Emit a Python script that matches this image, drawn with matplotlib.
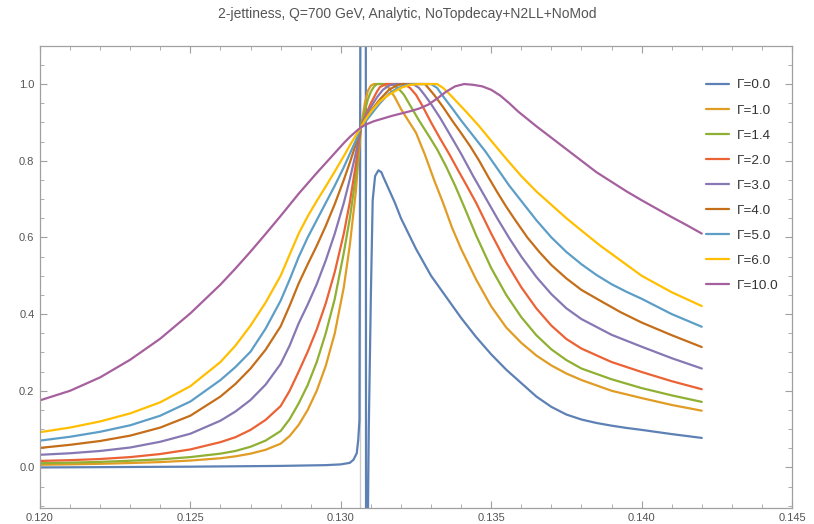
import matplotlib
matplotlib.use("Agg")
import matplotlib.pyplot as plt
from matplotlib.ticker import MultipleLocator, FormatStrFormatter

plt.rcParams['font.family'] = ['Liberation Sans', 'DejaVu Sans']

title = "2-jettiness, Q=700 GeV, Analytic, NoTopdecay+N2LL+NoMod"
labels = ["Γ=0.0", "Γ=1.0", "Γ=1.4", "Γ=2.0", "Γ=3.0", "Γ=4.0", "Γ=5.0", "Γ=6.0", "Γ=10.0"]
colors = ["#5E81B5", "#E19C24", "#8FB032", "#EB6235", "#8778B3", "#C56E1A", "#5D9EC7", "#FFBF00", "#A5609D"]

# Gamma = 0.0 (includes the numerical spike near the threshold)
x_g00 = [0.1200, 0.1250, 0.1280, 0.1295, 0.13000, 0.13030, 0.13042, 0.13053, 0.13058, 0.13062, 0.13066,
         0.13083, 0.13084, 0.13088, 0.13093, 0.13100, 0.13106, 0.13114, 0.13125, 0.13135, 0.1314,
         0.1316, 0.1318, 0.1320, 0.1325, 0.1330, 0.1335, 0.1340, 0.1345, 0.1350, 0.1355, 0.1360,
         0.1365, 0.1370, 0.1375, 0.1380, 0.1385, 0.1390, 0.1395, 0.1400, 0.1410, 0.1420]
y_g00 = [0.000, 0.002, 0.004, 0.006, 0.008, 0.012, 0.020, 0.037, 0.072, 0.124, 1.500,
         1.500, -0.300, -0.300, 0.100, 0.450, 0.697, 0.760, 0.775, 0.770, 0.760,
         0.725, 0.690, 0.650, 0.570, 0.500, 0.445, 0.390, 0.340, 0.295, 0.255, 0.220,
         0.185, 0.158, 0.138, 0.125, 0.116, 0.109, 0.103, 0.098, 0.087, 0.077]

x_rise = [0.1200, 0.1210, 0.1220, 0.1230, 0.1240, 0.1250, 0.1260, 0.1265, 0.1270, 0.1275, 0.1280,
          0.1283, 0.1286, 0.1289, 0.1292, 0.1295, 0.1298, 0.1301, 0.1303, 0.1305, 0.13067]

# Gamma = 1.0
x_g10 = x_rise + [0.1308, 0.1309, 0.1310, 0.1311, 0.1314, 0.1316, 0.1318, 0.1320, 0.1322, 0.1325, 0.1328,
                  0.1331, 0.1334, 0.1337, 0.1340, 0.1345, 0.1350, 0.1355, 0.1360, 0.1365, 0.1370, 0.1375,
                  0.1380, 0.1390, 0.1400, 0.1410, 0.1420]
y_g10 = [0.007, 0.008, 0.0095, 0.0115, 0.014, 0.018, 0.024, 0.029, 0.036, 0.046, 0.062,
         0.082, 0.111, 0.150, 0.200, 0.265, 0.350, 0.470, 0.580, 0.720, 0.887,
         0.950, 0.982, 0.996, 1.000, 1.000, 0.990, 0.965, 0.935, 0.910, 0.873, 0.815,
         0.750, 0.690, 0.625, 0.570, 0.490, 0.420, 0.365, 0.325, 0.292, 0.266, 0.245,
         0.228, 0.200, 0.181, 0.163, 0.148]

# Gamma = 1.4
x_g14 = x_rise + [0.1308, 0.1309, 0.1310, 0.1311, 0.1312, 0.1317, 0.1319, 0.1321, 0.1323, 0.1326, 0.1329,
                  0.1332, 0.1335, 0.1338, 0.1341, 0.1345, 0.1350, 0.1355, 0.1360, 0.1365, 0.1370, 0.1375,
                  0.1380, 0.1390, 0.1400, 0.1410, 0.1420]
y_g14 = [0.011, 0.0125, 0.0145, 0.0175, 0.021, 0.027, 0.036, 0.043, 0.054, 0.070, 0.095,
         0.126, 0.167, 0.215, 0.275, 0.350, 0.440, 0.560, 0.650, 0.760, 0.887,
         0.930, 0.960, 0.980, 0.993, 1.000, 1.000, 0.990, 0.972, 0.945, 0.905, 0.868,
         0.830, 0.785, 0.735, 0.680, 0.605, 0.520, 0.450, 0.392, 0.345, 0.308, 0.280,
         0.258, 0.230, 0.207, 0.188, 0.171]

# Gamma = 2.0
x_g20 = x_rise + [0.1308, 0.1310, 0.1312, 0.1313, 0.1315, 0.1321, 0.1323, 0.1325, 0.1327, 0.1330, 0.1333,
                  0.1336, 0.1339, 0.1342, 0.1345, 0.1350, 0.1355, 0.1360, 0.1365, 0.1370, 0.1375, 0.1380,
                  0.1390, 0.1400, 0.1410, 0.1420]
y_g20 = [0.017, 0.019, 0.022, 0.027, 0.035, 0.047, 0.066, 0.079, 0.098, 0.124, 0.160,
         0.200, 0.250, 0.302, 0.360, 0.428, 0.510, 0.610, 0.692, 0.790, 0.887,
         0.915, 0.950, 0.980, 0.992, 1.000, 1.000, 0.990, 0.972, 0.945, 0.900, 0.858,
         0.818, 0.775, 0.733, 0.690, 0.610, 0.535, 0.470, 0.415, 0.370, 0.335, 0.310,
         0.275, 0.249, 0.225, 0.204]

# Gamma = 3.0
x_g30 = x_rise + [0.1308, 0.1310, 0.1312, 0.1314, 0.1316, 0.1318, 0.1324, 0.1326, 0.1328, 0.1330, 0.1333,
                  0.1336, 0.1340, 0.1344, 0.1348, 0.1352, 0.1356, 0.1360, 0.1365, 0.1370, 0.1375, 0.1380,
                  0.1390, 0.1400, 0.1410, 0.1420]
y_g30 = [0.033, 0.037, 0.043, 0.052, 0.067, 0.088, 0.122, 0.146, 0.176, 0.216, 0.270,
         0.318, 0.376, 0.425, 0.478, 0.540, 0.610, 0.690, 0.752, 0.820, 0.887,
         0.910, 0.940, 0.965, 0.985, 0.996, 1.000, 1.000, 0.990, 0.970, 0.948, 0.912,
         0.872, 0.818, 0.760, 0.705, 0.650, 0.598, 0.550, 0.497, 0.452, 0.415, 0.387,
         0.346, 0.315, 0.285, 0.258]

# Gamma = 4.0
x_g40 = x_rise + [0.1308, 0.1310, 0.1313, 0.1316, 0.1319, 0.1321, 0.1328, 0.1331, 0.1334, 0.1337, 0.1340,
                  0.1343, 0.1346, 0.1349, 0.1352, 0.1355, 0.1358, 0.1362, 0.1366, 0.1370, 0.1375, 0.1380,
                  0.1386, 0.1393, 0.1400, 0.1410, 0.1420]
y_g40 = [0.051, 0.059, 0.069, 0.083, 0.104, 0.135, 0.185, 0.218, 0.258, 0.307, 0.368,
         0.422, 0.480, 0.530, 0.578, 0.630, 0.687, 0.750, 0.795, 0.843, 0.887,
         0.905, 0.930, 0.960, 0.985, 0.998, 1.000, 1.000, 0.972, 0.940, 0.905, 0.872,
         0.838, 0.800, 0.758, 0.718, 0.680, 0.645, 0.600, 0.562, 0.528, 0.493, 0.463,
         0.436, 0.405, 0.378, 0.345, 0.314]

# Gamma = 5.0
x_g50 = x_rise + [0.1308, 0.1310, 0.1313, 0.1316, 0.1319, 0.1322, 0.1324, 0.1330, 0.1332, 0.1334, 0.1337,
                  0.1340, 0.1344, 0.1348, 0.1352, 0.1356, 0.1360, 0.1365, 0.1370, 0.1375, 0.1380, 0.1385,
                  0.1390, 0.1395, 0.1400, 0.1410, 0.1420]
y_g50 = [0.070, 0.080, 0.093, 0.110, 0.135, 0.172, 0.228, 0.262, 0.302, 0.362, 0.435,
         0.490, 0.549, 0.600, 0.645, 0.690, 0.735, 0.783, 0.818, 0.853, 0.887,
         0.900, 0.920, 0.950, 0.975, 0.990, 0.998, 1.000, 1.000, 0.990, 0.968, 0.937,
         0.905, 0.865, 0.825, 0.780, 0.735, 0.695, 0.645, 0.600, 0.562, 0.530, 0.502,
         0.478, 0.458, 0.440, 0.400, 0.367]

# Gamma = 6.0
x_g60 = x_rise + [0.1308, 0.1310, 0.1313, 0.1316, 0.1320, 0.1323, 0.1326, 0.1332, 0.1334, 0.1336, 0.1339,
                  0.1342, 0.1346, 0.1350, 0.1355, 0.1360, 0.1365, 0.1370, 0.1375, 0.1380, 0.1386, 0.1393,
                  0.1400, 0.1410, 0.1420]
y_g60 = [0.092, 0.104, 0.120, 0.141, 0.170, 0.212, 0.275, 0.318, 0.370, 0.430, 0.500,
         0.555, 0.610, 0.655, 0.695, 0.733, 0.772, 0.812, 0.840, 0.866, 0.887,
         0.905, 0.928, 0.955, 0.972, 0.990, 0.998, 1.000, 1.000, 0.990, 0.975, 0.950,
         0.925, 0.890, 0.852, 0.805, 0.760, 0.720, 0.685, 0.650, 0.618, 0.580, 0.540,
         0.500, 0.457, 0.421]

# Gamma = 10.0
x_g100 = x_rise + [0.13085, 0.1311, 0.1314, 0.1317, 0.1320, 0.1323, 0.1326, 0.1329, 0.1332, 0.1335, 0.1338,
                   0.1341, 0.1344, 0.1347, 0.1350, 0.1353, 0.1356, 0.1359, 0.1362, 0.1365, 0.1370, 0.1375,
                   0.1380, 0.1385, 0.1390, 0.1395, 0.1400, 0.1405, 0.1410, 0.1415, 0.1420]
y_g100 = [0.175, 0.200, 0.235, 0.281, 0.336, 0.402, 0.477, 0.519, 0.563, 0.609, 0.656,
          0.685, 0.714, 0.741, 0.768, 0.794, 0.820, 0.846, 0.862, 0.876, 0.887,
          0.895, 0.903, 0.910, 0.917, 0.923, 0.929, 0.936, 0.946, 0.962, 0.980, 0.994,
          1.000, 0.998, 0.994, 0.985, 0.970, 0.950, 0.928, 0.909, 0.890, 0.860, 0.830,
          0.800, 0.770, 0.745, 0.720, 0.697, 0.675, 0.653, 0.632, 0.610]

series_x = [x_g00, x_g10, x_g14, x_g20, x_g30, x_g40, x_g50, x_g60, x_g100]
series_y = [y_g00, y_g10, y_g14, y_g20, y_g30, y_g40, y_g50, y_g60, y_g100]

exclusion_x = 0.13064

fig = plt.figure(figsize=(8.14, 5.24), dpi=100)
ax = fig.add_axes([40 / 814, 1 - 507.7 / 524, (792 - 40) / 814, (507.7 - 45.7) / 524])

ax.axvline(exclusion_x, color="#cccccc", lw=1.0, zorder=1)
for xs, ys, c, lab in zip(series_x, series_y, colors, labels):
    ax.plot(xs, ys, color=c, lw=1.6, label=lab, zorder=2,
            solid_joinstyle='round', solid_capstyle='round')

ax.set_xlim(0.120, 0.145)
ax.set_ylim(-0.105, 1.1)
ax.set_xticks([0.120, 0.125, 0.130, 0.135, 0.140, 0.145])
ax.set_yticks([0.0, 0.2, 0.4, 0.6, 0.8, 1.0])
ax.xaxis.set_minor_locator(MultipleLocator(0.001))
ax.yaxis.set_minor_locator(MultipleLocator(0.05))
ax.xaxis.set_major_formatter(FormatStrFormatter('%.3f'))
ax.yaxis.set_major_formatter(FormatStrFormatter('%.1f'))

frame_c = "#a0a0a0"
for s in ax.spines.values():
    s.set_color(frame_c)
    s.set_linewidth(0.9)
ax.tick_params(which='both', direction='in', top=True, right=True, color=frame_c,
               labelcolor="#555555", labelsize=8)
ax.tick_params(which='major', length=5, width=0.8, pad=4)
ax.tick_params(which='minor', length=3, width=0.6)

leg = ax.legend(loc='upper left', bbox_to_anchor=(706 / 814, 1 - 79 / 524), bbox_transform=fig.transFigure,
                frameon=False, fontsize=9.7, handlelength=1.7, handletextpad=0.6,
                labelspacing=0.94, borderpad=0, borderaxespad=0)
for t in leg.get_texts():
    t.set_color("#333333")

fig.text(0.5, 1 - 14 / 524, title, ha='center', va='center', fontsize=10, color="#555555")

fig.savefig("out.png", dpi=100)
